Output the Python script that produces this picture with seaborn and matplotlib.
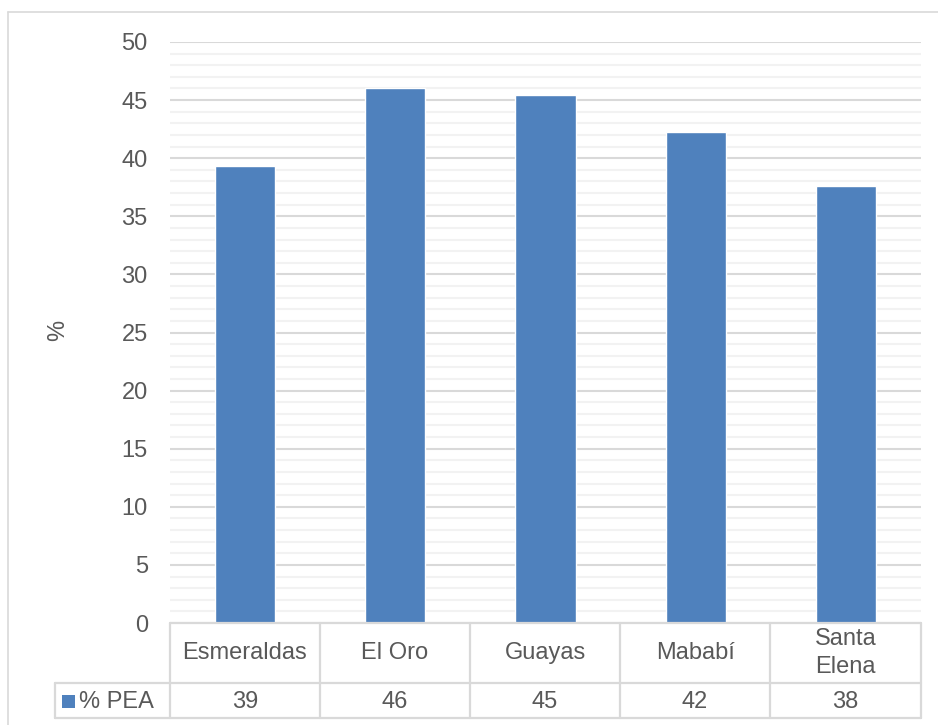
import matplotlib
matplotlib.use("Agg")
import matplotlib.pyplot as plt
import seaborn as sns
import pandas as pd
from matplotlib.lines import Line2D
from matplotlib.patches import Rectangle

# datos
provincias = ["Esmeraldas", "El Oro", "Guayas", "Mababí", "Santa\nElena"]
pea = [39.3, 46.0, 45.4, 42.25, 37.6]
pea_tabla = ["39", "46", "45", "42", "38"]
serie = "% PEA"

df = pd.DataFrame({"provincia": provincias, "pea": pea})

sns.set_theme(style="white")
plt.rcParams["font.family"] = ["Liberation Sans", "DejaVu Sans"]

W, H = 938, 725
fig = plt.figure(figsize=(W / 100, H / 100), dpi=100)

def fx(px):
    return px / W

def fy(py):
    return 1 - py / H

ax = fig.add_axes([fx(170), fy(623), fx(921) - fx(170), fy(42) - fy(623)])

color = "#4f81bd"
txt = "#595959"
grid_major = "#d9d9d9"
grid_minor = "#f2f2f2"
fs = 17

sns.barplot(data=df, x="provincia", y="pea", color=color, width=0.4,
            saturation=1, ax=ax, zorder=3)

ax.set_ylim(0, 50)
ax.set_xlim(-0.5, len(provincias) - 0.5)
ax.set_yticks(range(0, 51, 5))
ax.set_yticks(range(0, 51, 1), minor=True)
ax.grid(axis="y", which="major", color=grid_major, lw=1.5, zorder=0)
ax.grid(axis="y", which="minor", color=grid_minor, lw=1.5, zorder=0)
ax.tick_params(axis="y", which="both", length=0, labelsize=fs,
               labelcolor=txt, pad=16)
ax.set_xticks([])
ax.set_xlabel("")
ax.set_ylabel("")
for s in ax.spines.values():
    s.set_visible(False)

fig.text(fx(58), fy(330), "%", rotation=90, ha="center", va="center",
         fontsize=fs, color=txt)

# tabla de datos
lc = "#d9d9d9"
lw = 1.6
xs = [170, 320, 470, 620, 770, 921]
def hline(x0, x1, y):
    fig.add_artist(Line2D([fx(x0), fx(x1)], [fy(y), fy(y)], color=lc, lw=lw))
def vline(x, y0, y1):
    fig.add_artist(Line2D([fx(x), fx(x)], [fy(y0), fy(y1)], color=lc, lw=lw))

hline(170, 921, 623)
hline(55, 921, 683)
hline(55, 921, 718)
for x in xs:
    vline(x, 623, 718)
vline(55, 683, 718)

for i, (p, v) in enumerate(zip(provincias, pea_tabla)):
    cx = (xs[i] + xs[i + 1]) / 2
    fig.text(fx(cx), fy(653), p, ha="center", va="center", fontsize=fs,
             color=txt, linespacing=1.3)
    fig.text(fx(cx), fy(702), v, ha="center", va="center", fontsize=fs,
             color=txt)

fig.add_artist(Rectangle((fx(62), fy(708)), fx(13), fy(695) - fy(708),
                         facecolor=color, edgecolor="none"))
fig.text(fx(79), fy(702), serie, ha="left", va="center", fontsize=fs,
         color=txt)

# borde del gráfico
fig.add_artist(Line2D([fx(8), fx(938)], [fy(12), fy(12)], color=lc, lw=1.2))
fig.add_artist(Line2D([fx(8), fx(8)], [fy(12), fy(725)], color=lc, lw=1.2))

fig.savefig("out.png", dpi=100)
